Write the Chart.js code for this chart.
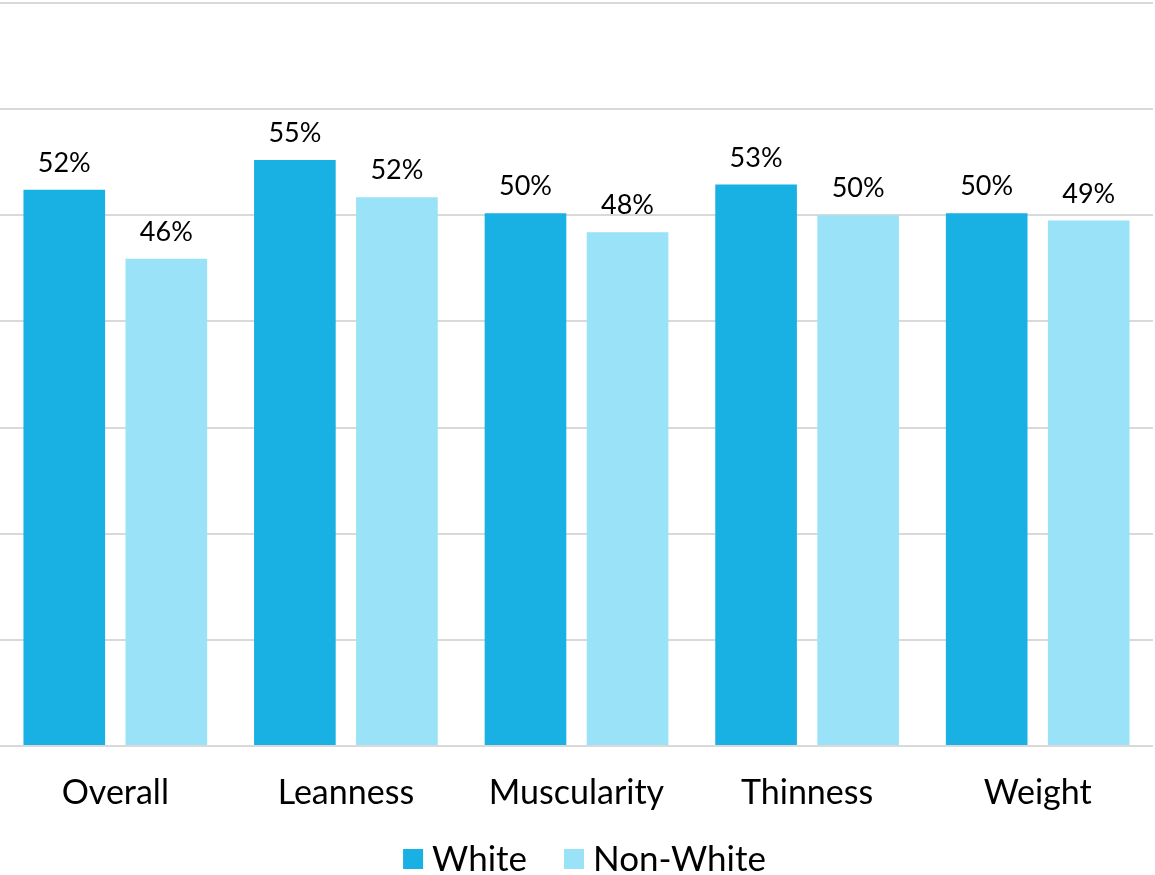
<!DOCTYPE html>
<html>
<head>
<meta charset="utf-8">
<script src="https://cdn.jsdelivr.net/npm/chart.js@4/dist/chart.umd.min.js"></script>
<style>
  html, body { margin: 0; padding: 0; background: #ffffff; }
  #wrap { width: 1155px; height: 875px; position: relative; }
</style>
</head>
<body>
<div id="wrap"><canvas id="c"></canvas></div>
<script>
const categories = ["Overall", "Leanness", "Muscularity", "Thinness", "Weight"];
const seriesNames = ["White", "Non-White"];
const whiteValues = [52.4, 55.2, 50.2, 52.9, 50.2];
const nonWhiteValues = [45.9, 51.7, 48.4, 50.0, 49.5];
const whiteLabels = ["52%", "55%", "50%", "53%", "50%"];
const nonWhiteLabels = ["46%", "52%", "48%", "50%", "49%"];
const yMin = 0, yMax = 70, yStep = 10;

const FONT = "Lato, 'Open Sans', sans-serif";

const valueLabelPlugin = {
  id: 'valueLabels',
  afterDatasetsDraw(chart) {
    const ctx = chart.ctx;
    ctx.save();
    ctx.font = "27px " + FONT;
    ctx.fillStyle = "#000000";
    ctx.textAlign = "center";
    ctx.textBaseline = "alphabetic";
    chart.data.datasets.forEach((ds, di) => {
      const meta = chart.getDatasetMeta(di);
      meta.data.forEach((bar, i) => {
        ctx.fillText(ds.valueLabels[i], bar.x, bar.y - 18);
      });
    });
    ctx.restore();
  }
};

// Bottom legend drawn from the chart's own datasets (names and colours)
const bottomLegendPlugin = {
  id: 'bottomLegend',
  afterDraw(chart) {
    const ctx = chart.ctx;
    const box = 20, textGap = 9, itemGap = 37, cy = 859;
    ctx.save();
    ctx.font = "35px " + FONT;
    ctx.textBaseline = "middle";
    ctx.textAlign = "left";
    const items = chart.data.datasets.map(ds => ({
      text: ds.label, color: ds.backgroundColor, w: ctx.measureText(ds.label).width
    }));
    let total = 0;
    items.forEach((it, i) => { total += box + textGap + it.w + (i < items.length - 1 ? itemGap : 0); });
    let x = chart.width / 2 + 7 - total / 2;
    items.forEach(it => {
      ctx.fillStyle = it.color;
      ctx.fillRect(x, cy - box / 2, box, box);
      ctx.fillStyle = "#000000";
      ctx.fillText(it.text, x + box + textGap, cy + 1);
      x += box + textGap + it.w + itemGap;
    });
    ctx.restore();
  }
};

new Chart(document.getElementById('c'), {
  type: 'bar',
  data: {
    labels: categories,
    datasets: [
      { label: seriesNames[0], data: whiteValues, valueLabels: whiteLabels,
        backgroundColor: '#19B0E3', borderWidth: 0 },
      { label: seriesNames[1], data: nonWhiteValues, valueLabels: nonWhiteLabels,
        backgroundColor: '#99E2F7', borderWidth: 0 }
    ]
  },
  options: {
    responsive: true,
    maintainAspectRatio: false,
    animation: false,
    layout: { padding: { top: 3, left: 0, right: 2, bottom: 35 } },
    datasets: { bar: { categoryPercentage: 0.885, barPercentage: 0.8 } },
    scales: {
      x: {
        grid: { display: false, drawTicks: false },
        border: { display: false },
        ticks: { color: '#000000', font: { family: FONT, size: 34, lineHeight: 0.735 }, padding: 34.5 }
      },
      y: {
        min: yMin, max: yMax,
        ticks: { display: false, stepSize: yStep },
        grid: { color: '#d9d9d9', lineWidth: 2, drawTicks: false },
        border: { display: false }
      }
    },
    plugins: {
      legend: { display: false },
      tooltip: { enabled: false },
      title: { display: false }
    }
  },
  plugins: [valueLabelPlugin, bottomLegendPlugin]
});
</script>
</body>
</html>
